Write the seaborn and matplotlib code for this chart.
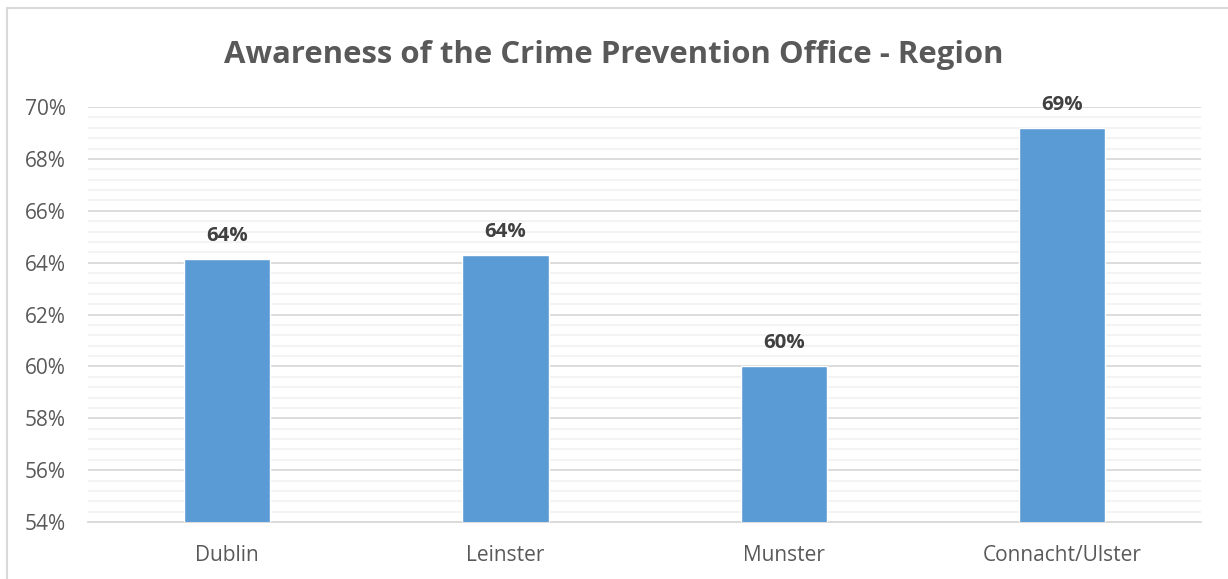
import matplotlib
matplotlib.use("Agg")
import matplotlib.pyplot as plt
import seaborn as sns
import pandas as pd
from matplotlib.ticker import MultipleLocator, FuncFormatter
from matplotlib.patches import Rectangle

# Chart data
regions = ["Dublin", "Leinster", "Munster", "Connacht/Ulster"]
awareness = [64.15, 64.3, 60.0, 69.2]
title = "Awareness of the Crime Prevention Office - Region"

df = pd.DataFrame({"Region": regions, "Awareness": awareness})

sns.set_style("white")
plt.rcParams["font.family"] = ["Open Sans", "DejaVu Sans"]

fig = plt.figure(figsize=(12.28, 5.79), dpi=100)
ax = fig.add_axes([0.0717, 0.0984, 0.9063, 0.7168])

sns.barplot(data=df, x="Region", y="Awareness", color="#5B9BD5",
            saturation=1, width=0.31, ax=ax, zorder=3)

ax.set_ylim(54, 70)
ax.yaxis.set_major_locator(MultipleLocator(2))
ax.yaxis.set_minor_locator(MultipleLocator(0.4))
ax.yaxis.set_major_formatter(FuncFormatter(lambda v, p: f"{v:.0f}%"))
ax.grid(axis="y", which="major", color="#D9D9D9", linewidth=1.3, zorder=0)
ax.grid(axis="y", which="minor", color="#F2F2F2", linewidth=1.3, zorder=0)
ax.set_axisbelow(True)

for s in ["top", "right", "left"]:
    ax.spines[s].set_visible(False)
ax.spines["bottom"].set_color("#D9D9D9")
ax.spines["bottom"].set_linewidth(1.3)

ax.tick_params(axis="y", which="both", length=0, pad=16, labelsize=15,
               labelcolor="#595959")
ax.tick_params(axis="x", length=0, pad=16.5, labelsize=15, labelcolor="#595959")
ax.set_xlabel("")
ax.set_ylabel("")

for i, v in enumerate(awareness):
    ax.annotate(f"{v:.0f}%", (i, v), xytext=(0, 16.5), textcoords="offset points",
                ha="center", va="center", fontsize=14.7, fontweight="bold",
                color="#404040")

fig.text(0.5, 0.905, title, ha="center", va="center", fontsize=22.4,
         fontweight="bold", color="#595959")

# chart-area border (left and top edges visible)
fig.patches.append(Rectangle((7 / 1228, -0.1), 1.2, (579 - 8) / 579 + 0.1,
                             transform=fig.transFigure, fill=False,
                             edgecolor="#D9D9D9", linewidth=1.5))

fig.savefig("out.png", dpi=100)
